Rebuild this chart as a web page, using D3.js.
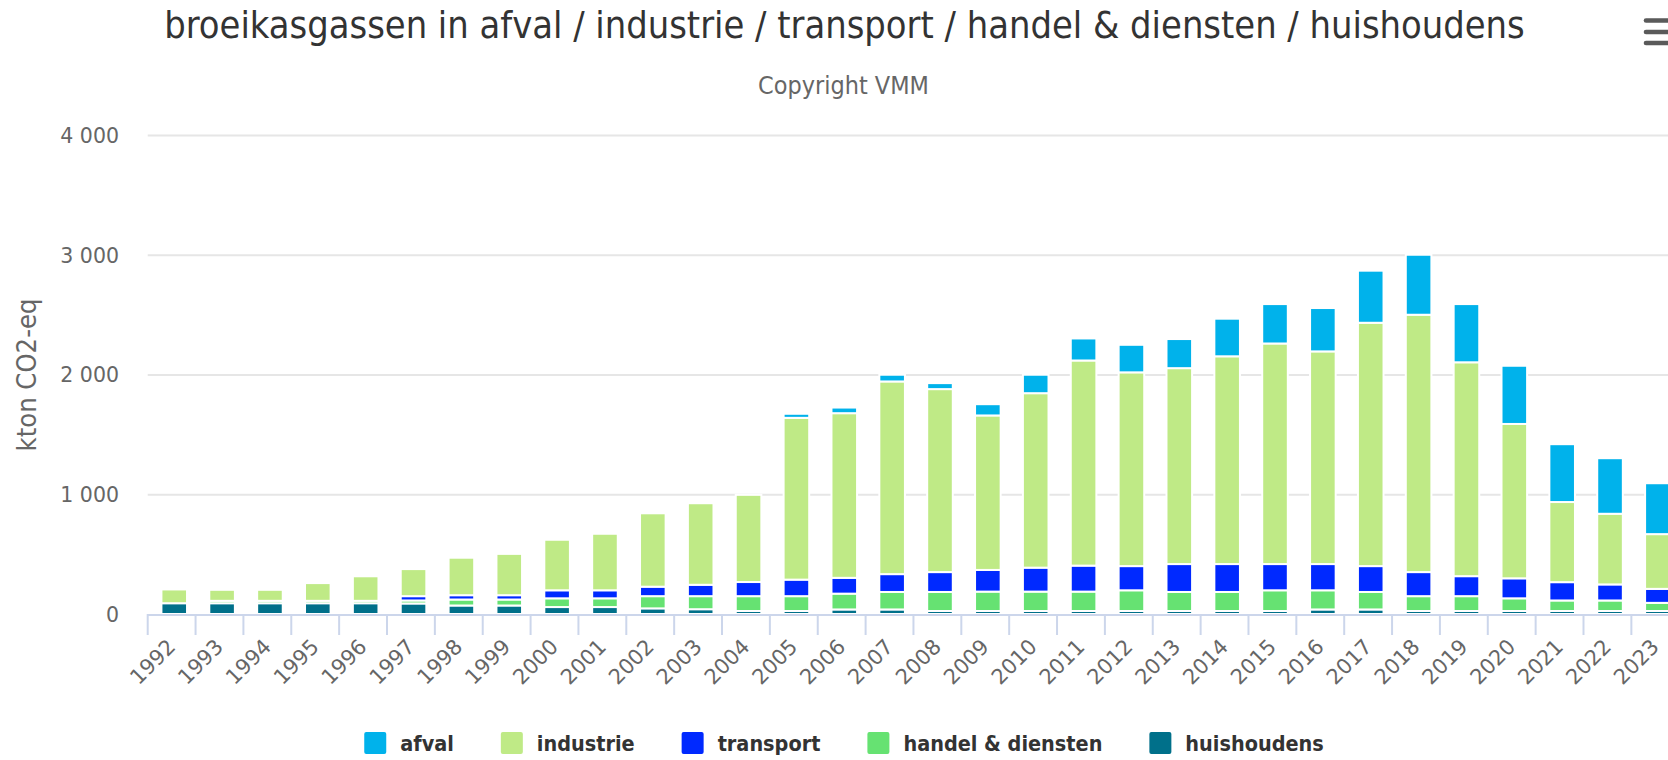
<!DOCTYPE html>
<html><head><meta charset="utf-8">
<script src="https://cdn.jsdelivr.net/npm/d3@7"></script>
<style>
html,body{margin:0;padding:0;background:#fff;overflow:hidden}
svg{display:block}
</style></head><body>
<svg id="chart" width="1668" height="760"></svg>
<script>
// ---------- data ----------
const years = ["1992","1993","1994","1995","1996","1997","1998","1999","2000","2001","2002","2003","2004","2005","2006","2007","2008","2009","2010","2011","2012","2013","2014","2015","2016","2017","2018","2019","2020","2021","2022","2023"];
const afval       = [0,0,0,0,0,0,0,0,0,0,0,0,0,34,47,56,50,94,154,184,230,243,314,329,362,435,501,486,486,483,464,425];
const industrie   = [115,92,92,148,205,226,313,345,422,472,613,681,728,1351,1375,1609,1528,1290,1457,1713,1618,1636,1735,1842,1776,2032,2149,1786,1289,669,590,457];
const transport   = [0,0,0,0,0,36,36,36,67,67,79,95,118,138,132,149,166,181,200,217,202,233,233,219,219,216,201,167,167,153,134,117];
const handel      = [0,20,20,20,20,25,50,50,73,73,102,109,124,124,132,146,159,162,162,162,173,159,159,173,160,146,124,124,106,88,88,68];
const huishoudens = [90,90,90,90,90,88,71,71,58,58,47,40,25,25,38,38,25,25,25,25,25,25,25,25,38,38,25,25,25,25,25,25];
const yTicks = [0,1000,2000,3000,4000];
const seriesNames  = ["afval","industrie","transport","handel & diensten","huishoudens"];
const seriesColors = ["#00b2eb","#bfea86","#0029ff","#66e272","#00708a"];
const titleText = "broeikasgassen in afval / industrie / transport / handel & diensten / huishoudens";
const subtitleText = "Copyright VMM";
const yTitleText = "kton CO2-eq";

// ---------- layout ----------
const FONT = '"DejaVu Sans Condensed","DejaVu Sans",sans-serif';
const FONT_AX = '"DejaVu Sans",sans-serif';
const plotLeft = 147.7, bandW = 47.86, plotTop = 135, plotBottom = 614;
const plotRight = plotLeft + years.length * bandW;
const svg = d3.select("#chart");

const x = d3.scaleBand().domain(years).range([plotLeft, plotRight]).padding(0);
const y = d3.scaleLinear().domain([0, 4000]).range([plotBottom, plotTop]);
const fmt = d3.formatLocale({decimal: ",", thousands: " ", grouping: [3], currency: ["", ""]}).format(",");

function fit(sel, target) {
  const w = sel.node().getComputedTextLength();
  const fs = parseFloat(sel.attr("font-size"));
  sel.attr("font-size", fs * target / w);
  return sel;
}

// title + subtitle
fit(svg.append("text").attr("x", 844.5).attr("y", 38).attr("text-anchor", "middle")
  .attr("font-family", FONT).attr("font-size", 36).attr("fill", "#333").text(titleText), 1361);
fit(svg.append("text").attr("x", 843.5).attr("y", 94).attr("text-anchor", "middle")
  .attr("font-family", FONT).attr("font-size", 22).attr("fill", "#666").text(subtitleText), 171);

// hamburger menu
svg.append("g").selectAll("line").data([20.5, 32, 43]).join("line")
  .attr("x1", 1646).attr("x2", 1690).attr("y1", d => d).attr("y2", d => d)
  .attr("stroke", "#5a5a5a").attr("stroke-width", 4.6).attr("stroke-linecap", "round");

// gridlines
svg.append("g").attr("transform", `translate(${plotLeft},0)`)
  .call(d3.axisRight(y).tickValues(yTicks.slice(1)).tickSize(plotRight - plotLeft).tickFormat(""))
  .call(g => g.select(".domain").remove())
  .selectAll("line").attr("stroke", "#e6e6e6").attr("stroke-width", 2);

// y labels
const yAx = svg.append("g").attr("transform", "translate(119,0)")
  .call(d3.axisLeft(y).tickValues(yTicks).tickSize(0).tickPadding(0).tickFormat(fmt))
  .call(g => g.select(".domain").remove());
yAx.selectAll("text").attr("font-family", FONT_AX).attr("font-size", 20.5).attr("fill", "#666").attr("dy", "0.36em");

// y title
fit(svg.append("text").attr("transform", "translate(36,375) rotate(-90)").attr("text-anchor", "middle")
  .attr("font-family", FONT).attr("font-size", 24).attr("fill", "#666").text(yTitleText), 153);

// stacked bars
const rows = years.map((yr, i) => ({year: yr, afval: afval[i], industrie: industrie[i], transport: transport[i], handel: handel[i], huishoudens: huishoudens[i]}));
const keys = ["huishoudens", "handel", "transport", "industrie", "afval"];
const keyColor = {afval: seriesColors[0], industrie: seriesColors[1], transport: seriesColors[2], handel: seriesColors[3], huishoudens: seriesColors[4]};
const stacked = d3.stack().keys(keys)(rows);
const barW = 25.6, barShift = 2.6;
svg.append("g").selectAll("g").data(stacked).join("g").attr("fill", d => keyColor[d.key])
  .selectAll("rect").data(d => d).join("rect")
  .attr("x", d => x(d.data.year) + x.bandwidth() / 2 + barShift - barW / 2)
  .attr("width", barW)
  .attr("y", d => y(d[1]))
  .attr("height", d => Math.max(0, y(d[0]) - y(d[1])))
  .attr("stroke", "#fff").attr("stroke-width", 2);

// x axis line + ticks
svg.append("line").attr("x1", plotLeft).attr("x2", plotRight).attr("y1", plotBottom + 1).attr("y2", plotBottom + 1)
  .attr("stroke", "#ccd6eb").attr("stroke-width", 2);
const edges = years.map(d => x(d)).concat([plotRight]);
svg.append("g").selectAll("line").data(edges).join("line")
  .attr("x1", d => d).attr("x2", d => d).attr("y1", plotBottom).attr("y2", plotBottom + 21)
  .attr("stroke", "#ccd6eb").attr("stroke-width", 2);

// x labels (rotated)
svg.append("g").selectAll("text").data(years).join("text")
  .attr("transform", d => `translate(${x(d) + x.bandwidth() / 2 + 5},648) rotate(-45)`)
  .attr("text-anchor", "end").attr("font-family", FONT_AX).attr("font-size", 21).attr("fill", "#666")
  .text(d => d);

// legend
const lg = svg.append("g");
const items = lg.selectAll("g").data(seriesNames).join("g");
items.append("rect").attr("width", 22).attr("height", 22).attr("rx", 2).attr("y", 732)
  .attr("fill", (d, i) => seriesColors[i]);
const lt = items.append("text").attr("x", 36).attr("y", 751).attr("font-family", FONT)
  .attr("font-weight", "bold").attr("font-size", 20).attr("fill", "#333").text(d => d);
// fit font so "handel & diensten" ~ 199px
const hNode = lt.filter(d => d === "handel & diensten");
const fsL = 20 * 199 / hNode.node().getComputedTextLength();
lt.attr("font-size", fsL);
const widths = lt.nodes().map(n => n.getComputedTextLength());
const itemGap = 47;
const totalW = d3.sum(widths.map(w => 36 + w)) + itemGap * (widths.length - 1);
let cx = 844 - totalW / 2;
const offs = widths.map(w => { const o = cx; cx += 36 + w + itemGap; return o; });
items.attr("transform", (d, i) => `translate(${offs[i]},0)`);
</script>
</body></html>
